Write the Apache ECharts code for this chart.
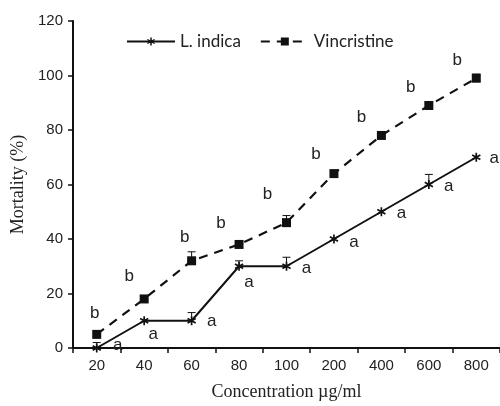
<!DOCTYPE html>
<html><head><meta charset="utf-8">
<script src="https://cdn.jsdelivr.net/npm/echarts@6/dist/echarts.min.js"></script>
<style>html,body{margin:0;padding:0;background:#fff}#c{width:500px;height:406px}</style>
</head><body><div id="c"></div>
<script>
var categories = ['20','40','60','80','100','200','400','600','800'];
var indicaValues = [0, 10, 10, 30, 30, 40, 50, 60, 70];
var indicaErrors = [2, 0, 3, 2, 3.3, 0, 0, 3.7, 0];
var indicaLetters = ['a','a','a','a','a','a','a','a','a'];
var vincValues = [5, 18, 32, 38, 46, 64, 78, 89, 99];
var vincErrors = [0, 1, 3.3, 1, 2.6, 1, 1, 1, 1.5];
var vincLetters = ['b','b','b','b','b','b','b','b','b'];
var yTicks = [0, 20, 40, 60, 80, 100, 120];

// label placement (style): pixel offsets of each letter from its marker
var indicaLabelOffsets = [[21,-3],[9,14],[20,1],[10,16],[20,2],[20,3],[20,2],[20,2],[18,1]];
var vincLabelOffsets = [[-2,-21],[-15,-23],[-7,-23],[-18,-21],[-19,-28],[-18,-19],[-20,-18],[-18,-18],[-19,-18]];

function starPath(){
  var parts = [];
  [90, 30, 150].forEach(function(a){
    var t = a*Math.PI/180, d=[Math.cos(t),Math.sin(t)], n=[-Math.sin(t),Math.cos(t)], L=5, W=0.9;
    var pts = [[L*d[0]+W*n[0], L*d[1]+W*n[1]],[L*d[0]-W*n[0], L*d[1]-W*n[1]],[-L*d[0]-W*n[0], -L*d[1]-W*n[1]],[-L*d[0]+W*n[0], -L*d[1]+W*n[1]]];
    parts.push('M'+pts.map(function(p){return p[0].toFixed(2)+','+p[1].toFixed(2);}).join('L')+'Z');
  });
  return 'path://'+parts.join('');
}

function errSeries(vals, errs, name){
  return {
    type:'custom', name: name+'_err', silent:true, z:5,
    data: vals.map(function(v,i){return [i, v, v+errs[i]];}),
    renderItem: function(params, api){
      var lo = api.coord([api.value(0), api.value(1)]);
      var hi = api.coord([api.value(0), api.value(2)]);
      if (Math.abs(lo[1]-hi[1]) < 0.5) return null;
      return {type:'group', children:[
        {type:'line', shape:{x1:lo[0],y1:lo[1],x2:hi[0],y2:hi[1]}, style:{stroke:'#111',lineWidth:1}},
        {type:'line', shape:{x1:hi[0]-4,y1:hi[1],x2:hi[0]+4,y2:hi[1]}, style:{stroke:'#111',lineWidth:1}}
      ]};
    }
  };
}

function lettered(vals, letters, offsets){
  return vals.map(function(v,i){
    return {value:v, label:{offset:offsets[i], formatter:letters[i]}};
  });
}

var chart = echarts.init(document.getElementById('c'));
var txt = '#222';
var letterLabel = {show:true, position:'inside', align:'center', verticalAlign:'middle',
  color:txt, fontFamily:'Liberation Sans', fontSize:17};
chart.setOption({
  animation:false,
  grid:{left:73, right:0, top:21, bottom:57},
  legend:{
    top:28, left:121, itemWidth:48, itemHeight:10, itemGap:19,
    textStyle:{fontFamily:'Lato', fontSize:17, color:txt},
    data:['L. indica','Vincristine']
  },
  xAxis:{
    type:'category', data:categories, boundaryGap:true,
    axisLine:{lineStyle:{color:'#111', width:2}},
    axisTick:{show:true, length:5, lineStyle:{color:'#111', width:1.5}},
    axisLabel:{color:txt, fontFamily:'Liberation Sans', fontSize:15, margin:10},
    name:'Concentration \u00b5g/ml', nameLocation:'middle', nameGap:35,
    nameTextStyle:{fontFamily:'Liberation Serif', fontSize:18, color:txt}
  },
  yAxis:{
    type:'value', min:0, max:120, interval:20,
    splitLine:{show:false},
    axisLine:{show:true, lineStyle:{color:'#111', width:2}},
    axisTick:{show:true, length:5, lineStyle:{color:'#111', width:1.5}},
    axisLabel:{color:txt, fontFamily:'Liberation Sans', fontSize:15, margin:10,
      formatter:function(v){return yTicks.indexOf(v)>=0 ? String(v) : '';}},
    name:'Mortality (%)', nameLocation:'middle', nameGap:44,
    nameTextStyle:{fontFamily:'Liberation Serif', fontSize:18, color:txt}
  },
  series:[
    {
      name:'L. indica', type:'line', data:lettered(indicaValues, indicaLetters, indicaLabelOffsets), z:4,
      symbol:starPath(), symbolSize:9,
      lineStyle:{color:'#111', width:2},
      itemStyle:{color:'#111'},
      label:letterLabel
    },
    {
      name:'Vincristine', type:'line', data:lettered(vincValues, vincLetters, vincLabelOffsets), z:4,
      symbol:'rect', symbolSize:9,
      lineStyle:{color:'#111', width:2.2, type:[9,7]},
      itemStyle:{color:'#111'},
      label:letterLabel
    },
    errSeries(indicaValues, indicaErrors, 'L. indica'),
    errSeries(vincValues, vincErrors, 'Vincristine')
  ]
});
</script></body></html>
